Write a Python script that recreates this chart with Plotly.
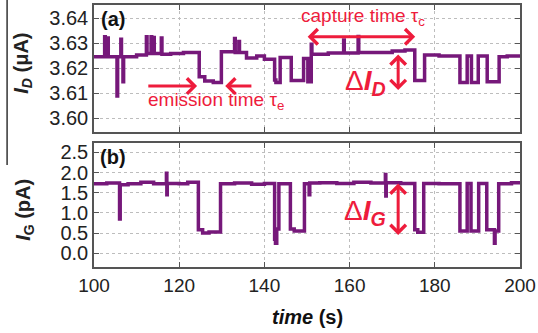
import plotly.graph_objects as go

# ---- data ----
t_a = [100, 102.5, 102.65, 103.2, 103.35, 105.4, 105.55, 106.3, 106.45, 106.8, 106.95, 110,
       112.3, 112.45, 113.4, 113.55, 114.0, 114.15, 115.8, 115.95, 118, 121, 124.7, 126, 128,
       129.9, 133.0, 133.15, 134.0, 134.15, 135.8, 138.2, 140, 142.4, 142.7, 143.7, 146.3,
       149.2, 150.2, 151.0, 151.15, 155, 158.6, 158.75, 162.0, 162.15, 166, 170, 173, 175.3,
       177.6, 181, 185.9, 187.6, 188.6, 190.2, 192.3, 195.1, 197, 200]
id_a = [3.6245, 3.6325, 3.6245, 3.632, 3.6245, 3.6088, 3.6245, 3.6315, 3.6245, 3.6145, 3.6245,
        3.6252, 3.6325, 3.6258, 3.6325, 3.6258, 3.6322, 3.6258, 3.632, 3.6255, 3.6258, 3.6262,
        3.6165, 3.6148, 3.6142, 3.6265, 3.6318, 3.6262, 3.6306, 3.6262, 3.624, 3.6248, 3.6235,
        3.6152, 3.6142, 3.6242, 3.615, 3.6238, 3.6145, 3.6295, 3.6255, 3.626, 3.6312, 3.626,
        3.6326, 3.6262, 3.6262, 3.6268, 3.6272, 3.615, 3.6252, 3.6248, 3.6142, 3.6248, 3.6142,
        3.6248, 3.6145, 3.6245, 3.6248, 3.6245]

t_b = [100, 103, 106.0, 106.15, 108, 111, 114, 117.0, 117.1, 117.2, 120, 122, 124.5, 125.5, 127,
       129.7, 133, 137, 140, 142.4, 142.6, 142.9, 143.4, 146.1, 147, 149.4, 150.5, 150.65, 153,
       157, 161, 165, 168.4, 168.5, 168.6, 172, 175.3, 176, 177.4, 181, 185.9, 187.6, 188.5,
       190.3, 192.2, 194.0, 194.15, 195.0, 198, 200]
ig_b = [1.72, 1.74, 0.85, 1.70, 1.72, 1.76, 1.72, 1.98, 1.45, 1.73, 1.72, 1.76, 0.58, 0.50, 0.53,
        1.72, 1.74, 1.71, 1.73, 0.35, 0.25, 0.60, 1.72, 0.60, 0.55, 1.72, 1.45, 1.74, 1.75, 1.73,
        1.76, 1.74, 1.95, 1.42, 1.75, 1.73, 0.58, 0.52, 1.73, 1.72, 0.55, 1.73, 0.55, 1.73, 0.58,
        0.25, 0.55, 1.72, 1.75, 1.74]

x_ticks = [100, 120, 140, 160, 180, 200]
ya_ticks = [3.60, 3.61, 3.62, 3.63, 3.64]
yb_ticks = [0.0, 0.5, 1.0, 1.5, 2.0, 2.5]

# ---- styles ----
FONT = "Liberation Sans, Arial, sans-serif"
TRACE = "#76187a"
RED = "#ee1c3c"

fig = go.Figure()
fig.add_trace(go.Scatter(x=t_a, y=id_a, mode="lines", line=dict(color=TRACE, width=3.5, shape="hv"),
                         xaxis="x", yaxis="y", showlegend=False, hoverinfo="skip"))
fig.add_trace(go.Scatter(x=t_b, y=ig_b, mode="lines", line=dict(color=TRACE, width=3.5, shape="hv"),
                         xaxis="x2", yaxis="y2", showlegend=False, hoverinfo="skip"))

common = dict(showline=True, linecolor="#555", linewidth=1.5, mirror="ticks", ticks="inside",
              ticklen=5, tickcolor="#555", tickwidth=1.2, showgrid=True, gridcolor="#bdbdbd",
              griddash="dot", gridwidth=1, zeroline=False, automargin=False,
              tickfont=dict(family=FONT, size=20, color="#222"))

fig.update_layout(
    width=538, height=333,
    margin=dict(l=94, r=18, t=5, b=66),
    paper_bgcolor="white", plot_bgcolor="white",
    xaxis=dict(domain=[0, 1], anchor="y", range=[100, 200], tickvals=x_ticks,
               showticklabels=False, **common),
    yaxis=dict(domain=[0.515, 1.0], anchor="x", range=[3.5944, 3.6452], tickvals=ya_ticks,
               tickformat=".2f", **common),
    xaxis2=dict(domain=[0, 1], anchor="y2", range=[100, 200], tickvals=x_ticks,
                **{**common, "tickfont": dict(family=FONT, size=19, color="#222")}),
    yaxis2=dict(domain=[0, 0.473], anchor="x2", range=[-0.34, 2.73], tickvals=yb_ticks,
                tickformat=".1f", **common),
)

def txt(**kw):
    d = dict(showarrow=False, xanchor="center", yanchor="middle")
    d.update(kw)
    return d

ann = []
# axis titles
ann.append(txt(xref="paper", yref="paper", x=-0.167, y=0.779, textangle=-90,
               text="<b><i>I</i><sub><i>D</i></sub> (μA)</b>",
               font=dict(family=FONT, size=20, color="#222")))
ann.append(txt(xref="paper", yref="paper", x=-0.162, y=0.218, textangle=-90,
               text="<b><i>I</i><sub>G</sub> (pA)</b>",
               font=dict(family=FONT, size=20, color="#222")))
ann.append(txt(xref="paper", yref="paper", x=0.5, y=-0.191,
               text="<b><i>time</i> (s)</b>", font=dict(family=FONT, size=20, color="#111")))
# panel labels
ann.append(txt(xref="paper", yref="paper", x=0.0446, y=0.947,
               text="<b>(a)</b>", font=dict(family=FONT, size=20, color="#111")))
ann.append(txt(xref="paper", yref="paper", x=0.0446, y=0.418,
               text="<b>(b)</b>", font=dict(family=FONT, size=20, color="#111")))

# red annotations, top panel
arrow = dict(showarrow=True, arrowcolor=RED, arrowwidth=3, arrowhead=4, arrowsize=1, text="",
             axref="x", ayref="y", xref="x", yref="y")
ann.append(dict(**arrow, x=124.2, y=3.6128, ax=112.4, ay=3.6128))
ann.append(dict(**arrow, x=130.8, y=3.6128, ax=137.3, ay=3.6128))
ann.append(txt(xref="x", yref="y", x=128.6, y=3.6068,
               text="emission time τ<sub>e</sub>", font=dict(family=FONT, size=19, color=RED)))
ann.append(txt(xref="x", yref="y", x=163.1, y=3.6404,
               text="capture time τ<sub>c</sub>", font=dict(family=FONT, size=19, color=RED)))
ann.append(dict(**{**arrow, "arrowside": "end+start"}, x=175.4, y=3.6325, ax=149.8, ay=3.6325))
ann.append(dict(**{**arrow, "arrowside": "end+start"}, x=171.4, y=3.6112, ax=171.4, ay=3.626))
ann.append(txt(xref="x", yref="y", x=163.7, y=3.6144,
               text="Δ<b><i>I</i></b><sub><b><i>D</i></b></sub>",
               font=dict(family=FONT, size=28, color=RED)))
# red annotations, bottom panel
arrow2 = {**arrow, "axref": "x2", "ayref": "y2", "xref": "x2", "yref": "y2", "arrowside": "end+start"}
ann.append(dict(**arrow2, x=171.4, y=0.453, ax=171.4, ay=1.765))
ann.append(txt(xref="x2", yref="y2", x=163.6, y=1.0,
               text="Δ<b><i>I</i></b><sub><b><i>G</i></b></sub>",
               font=dict(family=FONT, size=28, color=RED)))

fig.update_layout(annotations=ann)

# stray vertical rule at the far left of the original figure
fig.add_shape(type="line", xref="paper", yref="paper", x0=-0.204, x1=-0.204, y0=1.02, y1=0.389,
              line=dict(color="#333", width=1.5))

# remove the browser's default 8px body margin so the figure sits at the page origin
fig.write_html("out.html", config={"displayModeBar": False},
               post_script="document.body.style.margin='0';document.body.style.padding='0';")
